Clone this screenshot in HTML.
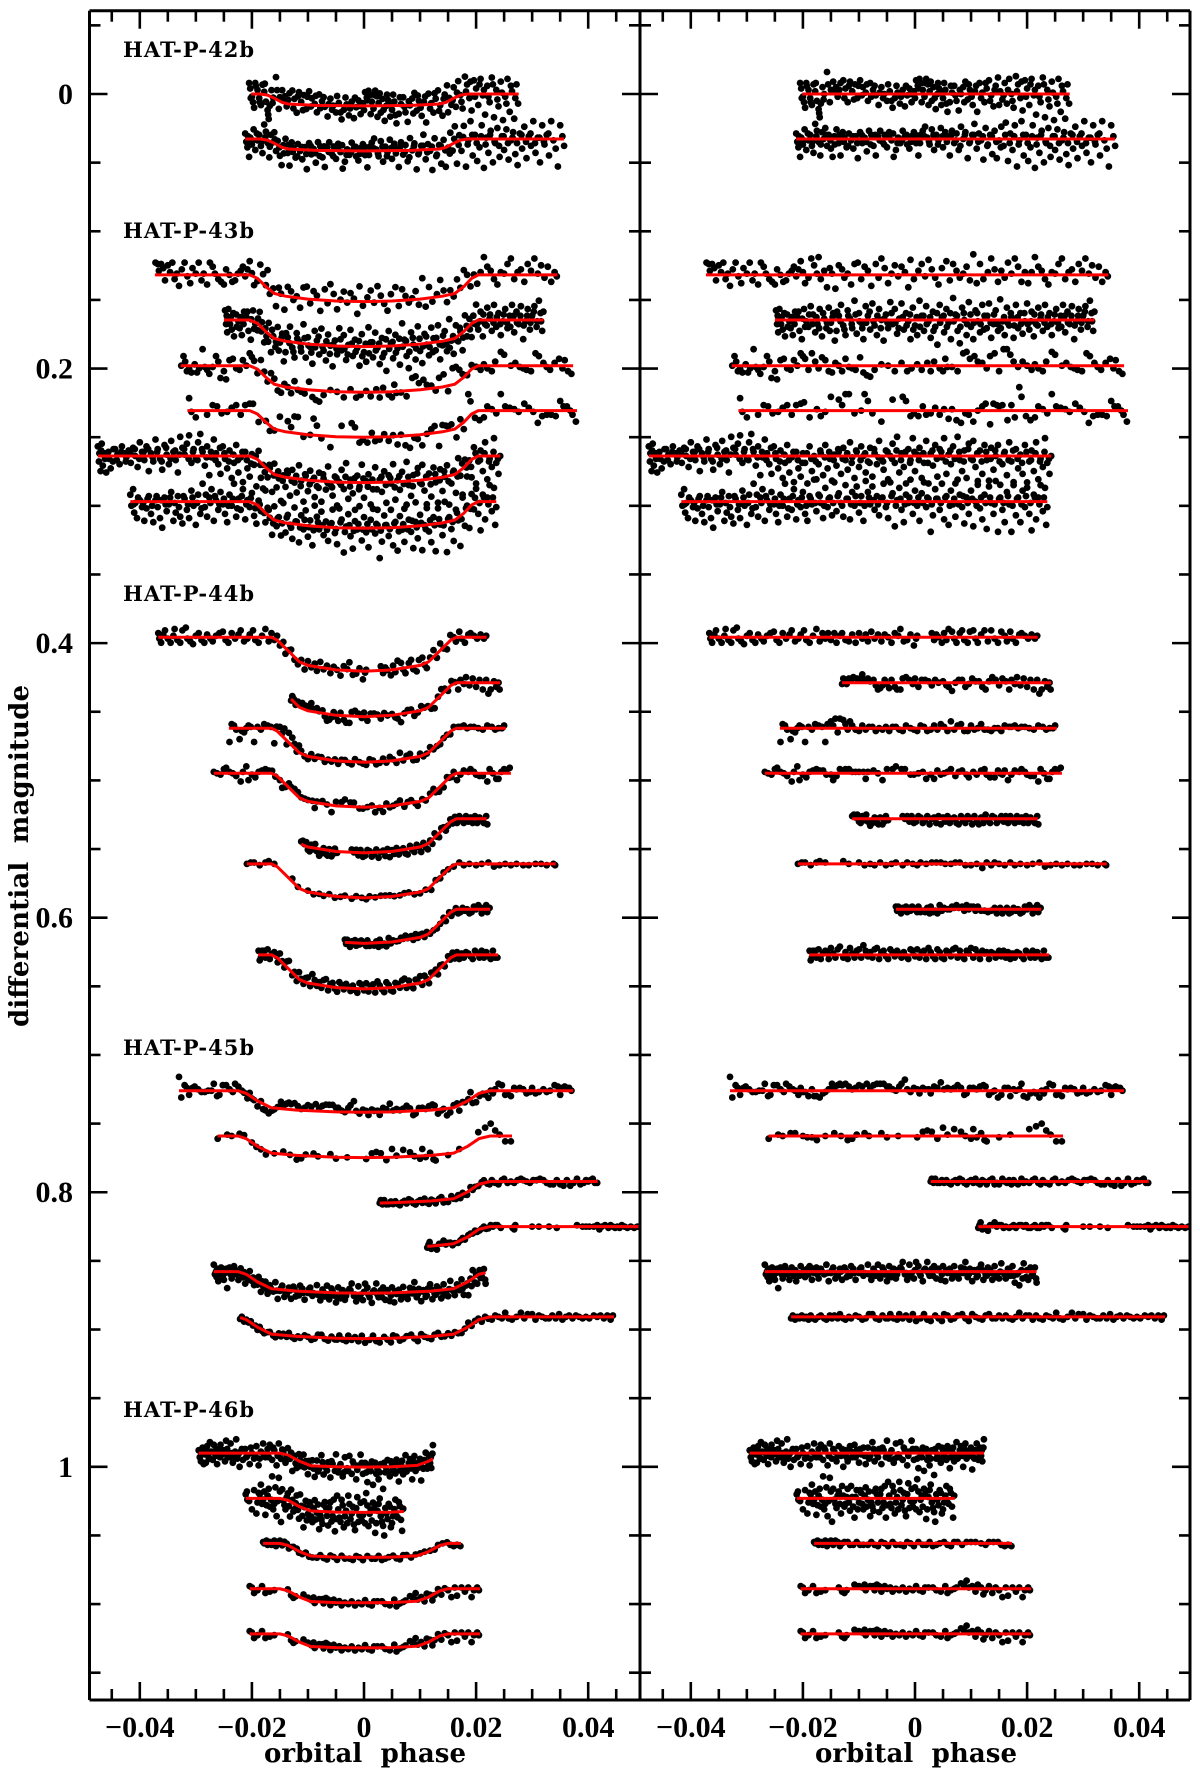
<!DOCTYPE html>
<html>
<head>
<meta charset="utf-8">
<title>HAT-P transit light curves</title>
<style>
html,body{margin:0;padding:0;background:#fff;}
svg{display:block;}
text{fill:#000;}
.tick-label{font-family:"Liberation Serif",serif;font-size:30px;font-weight:bold;}
.axis-title{font-family:"DejaVu Serif",serif;font-size:26px;font-weight:bold;}
.planet-label{font-family:"DejaVu Serif",serif;font-size:21px;font-weight:bold;}
</style>
</head>
<body>
<svg id="chart" xmlns="http://www.w3.org/2000/svg" width="1200" height="1777" viewBox="0 0 1200 1777">
<defs>
<clipPath id="clip-left"><rect x="89" y="10" width="551" height="1690"/></clipPath>
<clipPath id="clip-right"><rect x="640" y="10" width="550" height="1690"/></clipPath>
</defs>
<rect x="0" y="0" width="1200" height="1777" fill="#fff"/>
<g id="left-series" clip-path="url(#clip-left)"></g>
<g id="right-series" clip-path="url(#clip-right)"></g>
<g id="axes"></g>
<text class="planet-label" x="123" y="57" textLength="131" lengthAdjust="spacing">HAT-P-42b</text>
<text class="planet-label" x="123" y="238" textLength="131" lengthAdjust="spacing">HAT-P-43b</text>
<text class="planet-label" x="123" y="601" textLength="131" lengthAdjust="spacing">HAT-P-44b</text>
<text class="planet-label" x="123" y="1055" textLength="131" lengthAdjust="spacing">HAT-P-45b</text>
<text class="planet-label" x="123" y="1417" textLength="131" lengthAdjust="spacing">HAT-P-46b</text>
<text class="axis-title" x="365" y="1762" text-anchor="middle" textLength="202" lengthAdjust="spacing" xml:space="preserve">orbital  phase</text>
<text class="axis-title" x="916" y="1762" text-anchor="middle" textLength="202" lengthAdjust="spacing" xml:space="preserve">orbital  phase</text>
<text class="axis-title" transform="translate(28,856) rotate(-90)" text-anchor="middle" textLength="342" lengthAdjust="spacing" xml:space="preserve">differential  magnitude</text>
</svg>
<script>
// Axis tick values and printed labels
const xMajorValues = [-0.04,-0.02,0,0.02,0.04];
const xMajorLabels = ["\u22120.04","\u22120.02","0","0.02","0.04"];
const yMajorValues = [0,0.2,0.4,0.6,0.8,1];
const yMajorLabels = ["0","0.2","0.4","0.6","0.8","1"];

// Transit model depth (mag) against phase (units of 1e-4), per planet
const p42Phase = [-185,-172,-158,-146,-135,-85,0,85,135,146,158,172,185];
const p42Depth = [0,0.0008,0.0035,0.0062,0.0073,0.0083,0.0087,0.0083,0.0073,0.0062,0.0035,0.0008,0];
const p43Phase = [-204,-190,-175,-160,-140,-100,-50,0,50,100,140,162,178,192,204];
const p43Depth = [0,0.0025,0.0085,0.0135,0.0155,0.0176,0.019,0.0194,0.019,0.0176,0.0155,0.0135,0.0085,0.0025,0];
const p44Phase = [-165,-155,-135,-115,-100,-50,0,50,100,115,135,155,165];
const p44Depth = [0,0.002,0.010,0.018,0.0205,0.0238,0.0248,0.0238,0.0205,0.018,0.010,0.002,0];
const p45Phase = [-225,-210,-190,-165,-120,-50,0,50,120,160,185,205,225];
const p45Depth = [0,0.002,0.0075,0.0125,0.0142,0.0155,0.0158,0.0155,0.0142,0.0125,0.0075,0.002,0];
const p46Phase = [-150,-135,-115,-95,-50,0,50,95,115,135,150];
const p46Depth = [0,0.0015,0.006,0.0092,0.0100,0.0102,0.0100,0.009,0.006,0.0015,0];

// Out-of-transit level (mag), phase range (1e-4) of each light curve
const curveBase = [0,0.0328,0.1318,0.1646,0.1979,0.2306,0.2637,0.2969,0.3957,0.4288,0.462,0.4948,0.528,0.5608,0.5939,0.6271,0.726,0.759,0.7922,0.825,0.8578,0.8908,0.99,1.023,1.0558,1.0889,1.1217];
const curveStart = [-201,-212,-373,-250,-327,-315,-475,-417,-367,-130,-241,-268,-112,-209,-34,-189,-330,-261,28,113,-268,-221,-295,-211,-180,-204,-204];
const curveEnd = [276,357,345,320,373,380,243,236,219,243,253,262,219,342,225,239,373,264,417,495,217,446,123,71,173,207,207];

// Photometry: flat pairs of phase (1e-4) and residual (mmag, positive = fainter)
const c01 = [-205,-8,-203,-4,-200,2,-198,6,-196,10,-193,-6,-190,-3,-187,3,-184,8,-181,-7,-178,-2,-175,5,-172,11,-171,14,-170,17,-168,7,-165,-5,-162,0,-157,-16,-155,-7,-150,-3,-146,-9,-141,-5,-138,2,-133,-8,-128,-10,-124,-4,-120,6,-116,-9,-112,-2,-107,-7,-103,3,-98,-10,-93,-5,-88,-1,-84,5,-80,-8,-75,-3,-70,1,-65,8,-60,-5,-55,0,-50,5,-45,-2,-40,10,-36,3,-31,-1,-27,7,-22,-3,-18,9,-14,1,-10,-4,-6,6,-2,-2,2,-10,5,-6,8,-11,11,-8,14,-3,17,2,20,-11,23,-7,26,-2,30,5,33,-5,37,11,40,0,43,-4,47,8,50,3,54,-3,58,13,62,6,66,-1,70,-6,74,5,78,12,82,0,86,-5,90,-9,94,4,98,-3,103,8,107,-2,111,13,115,-8,120,-1,124,6,128,-4,132,-10,136,1,140,9,144,-6,148,-12,152,-2,156,4,160,-8,164,7,168,-11,172,0,176,10,180,-13,184,-7,188,3,192,12,196,-10,200,-4,204,8,208,-11,212,1,216,15,220,-6,224,6,228,-12,232,17,236,-3,240,9,244,-9,248,19,252,2,256,-11,260,13,264,-2,268,18,272,-7,275,7];
const c01b = [-202,3,-194,-8,-186,6,-177,-8,-163,4,-152,6,-144,-2,-135,-3,-126,3,-118,-6,-109,4,-101,-6,-95,1,-86,-7,-78,2,-72,-6,-63,-1,-57,3,-48,-7,-42,5,-33,-6,-25,2,-16,-6,-8,0,0,3,6,-4,12,6,18,-8,24,8,28,-9,35,3,41,-8,46,-1,52,-8,56,7,64,-6,72,1,80,-3,88,6,96,-7,101,2,109,-6,118,3,126,-8,134,5,142,-3,150,8,158,1,166,-3,174,5,182,-2,190,-9,198,2,206,-7,214,-3,222,2,230,-7,238,4,246,-1,254,7,262,-6,270,3];
const c02 = [-212,-4,-210,2,-208,6,-205,13,-203,-1,-200,4,-197,-7,-194,8,-190,1,-187,-3,-184,5,-181,10,-178,-11,-175,-6,-172,2,-169,12,-166,-5,-163,0,-160,-8,-157,5,-154,-3,-150,7,-147,13,-144,-2,-140,-7,-136,3,-133,12,-129,-5,-126,-1,-122,6,-118,-4,-114,1,-110,7,-106,-2,-102,14,-98,-5,-94,3,-90,-1,-86,9,-82,-6,-78,-3,-74,5,-70,12,-66,-2,-62,-6,-58,2,-54,-3,-50,6,-46,-5,-42,1,-38,13,-34,8,-30,-1,-26,3,-22,-6,-18,-2,-14,4,-10,7,-6,-2,-2,-5,2,3,6,12,10,-3,14,-6,18,-9,22,-1,26,4,30,-7,34,8,38,-3,42,1,46,-8,50,6,54,-5,58,-1,62,12,66,-6,70,3,74,-4,78,8,82,-9,86,0,90,-5,94,14,98,2,102,-3,106,-11,110,7,114,-4,118,1,122,15,126,-8,130,4,134,-3,138,11,142,-6,146,14,150,1,154,-9,158,5,162,-12,166,16,170,-4,174,8,178,-10,182,20,186,1,190,-13,194,12,198,-3,202,16,206,6,210,-10,214,21,218,-1,222,10,226,-6,230,17,234,3,238,-8,242,13,246,-2,250,8,254,-7,258,15,262,1,266,-5,270,11,274,19,278,-4,282,7,286,-9,290,14,294,-2,298,5,302,-13,306,10,310,-1,314,17,318,-10,322,4,326,-3,330,12,334,-13,338,1,342,7,346,20,350,-10,354,-2,357,5];
const c02b = [-207,-2,-199,1,-191,-4,-183,2,-176,-2,-168,4,-159,-3,-151,1,-143,4,-135,-3,-127,2,-119,5,-111,-2,-103,3,-95,-3,-87,2,-79,4,-71,-3,-63,1,-55,4,-47,-2,-39,-4,-31,3,-23,1,-15,-3,-7,2,1,-3,9,3,17,-2,25,2,33,-3,41,4,49,-2,57,2,65,-3,73,1,81,5,89,-3,97,3,105,-3,113,2,121,-2,129,5,137,-2,145,2,153,6,161,-3,169,3,177,-2,185,4,193,-3,201,3,209,-2,217,4,225,-3,233,2,241,5,249,-2,257,3,265,-1,273,3,281,-3,289,2,297,-4,305,3,313,-1,321,2,329,-4];
const c03 = [-372,-9,-368,-8,-366,-3,-362,-8,-358,-5,-355,4,-350,-7,-346,-2,-342,-9,-338,3,-334,-1,-330,8,-325,-4,-320,-9,-315,1,-310,6,-306,-5,-300,-1,-295,-9,-290,4,-286,-1,-280,7,-275,-9,-270,-6,-266,-1,-260,3,-255,5,-250,7,-246,-4,-240,0,-235,5,-230,4,-225,-1,-220,-3,-216,-6,-212,1,-208,-4,-204,-10,-200,-2,-196,6,-190,2,-185,-12,-180,-7,-175,-1,-172,-13,-168,3,-162,-3,-157,9,-152,-5,-148,-1,-142,10,-136,-7,-130,-4,-126,2,-120,-1,-114,7,-108,-8,-102,-9,-96,3,-90,-6,-84,-3,-78,8,-70,-8,-65,2,-60,-12,-54,-5,-48,6,-42,-1,-36,-7,-30,1,-24,-6,-18,-2,-12,9,-8,-11,-2,3,6,-3,12,-8,18,1,24,-11,30,-4,36,2,42,7,48,-5,56,-10,62,4,68,-8,74,-3,80,2,86,-1,92,-6,98,4,104,-15,110,6,116,-8,122,3,130,-2,136,-12,142,-4,148,5,154,-3,160,2,166,-9,172,-1,178,-12,184,-6,190,5,196,-2,202,6,208,-2,214,-13,220,-6,226,-3,232,3,238,7,244,-2,250,-1,256,-8,262,-12,268,3,274,-2,280,-4,286,5,292,-8,298,-3,304,-12,310,-1,316,-7,322,2,328,-6,334,5,340,-2,344,1];
const c04 = [-248,-7,-246,3,-244,9,-242,-8,-238,-2,-236,7,-232,12,-228,-4,-224,1,-222,6,-218,11,-214,-6,-210,-2,-206,8,-202,14,-198,-8,-194,1,-190,5,-186,-10,-182,-4,-178,9,-174,3,-170,-8,-166,12,-162,-1,-158,6,-154,-9,-150,2,-146,-5,-143,15,-140,8,-136,-3,-132,-11,-128,4,-124,11,-120,-7,-116,-1,-112,6,-108,-14,-104,10,-100,-5,-96,2,-92,14,-88,-10,-84,-3,-80,7,-76,-12,-72,4,-68,11,-64,-8,-60,0,-56,15,-52,-4,-48,6,-44,-13,-40,3,-36,-8,-32,10,-28,-1,-24,-12,-20,7,-16,-5,-12,1,-8,14,-4,-9,0,4,4,11,8,-14,12,-3,16,8,20,-10,24,1,28,13,32,-6,36,5,40,18,44,-11,48,-2,52,9,56,-8,60,2,64,14,68,-16,72,-4,76,8,80,17,84,-9,88,0,92,11,96,-13,100,5,104,14,108,-7,112,1,116,9,120,-11,124,-3,128,6,132,-12,136,13,140,3,144,-7,148,8,152,-15,156,1,160,11,164,-9,168,4,172,-2,176,13,180,-11,184,6,188,-5,192,10,196,1,200,-12,204,7,208,-6,212,12,216,3,220,-9,224,-1,228,8,232,-11,236,5,240,-5,244,11,248,1,252,-8,256,6,260,-3,264,-11,268,9,272,-6,276,3,280,-10,284,14,288,1,292,-8,296,7,300,-3,304,-10,308,5,312,-14,316,1,318,8,320,-6];
const c04b = [-245,-3,-239,3,-233,-5,-227,5,-220,-2,-215,3,-208,-6,-201,-1,-196,5,-189,-4,-183,3,-176,-2,-171,6,-164,-5,-157,2,-152,8,-147,-2,-139,-6,-133,1,-126,7,-119,-3,-113,3,-106,-4,-99,1,-94,6,-87,2,-81,-6,-74,1,-67,-3,-61,6,-55,-1,-49,2,-42,-5,-35,2,-29,6,-22,-2,-15,4,-9,-4,-3,7,3,-2,9,5,15,-3,21,3,27,-2,33,8,39,-5,45,2,51,-3,57,5,63,-5,69,1,75,-3,81,5,87,-5,93,3,99,-4,105,2,111,-5,117,3,123,7,129,-3,135,2,141,-4,147,3,153,6,159,-2,165,2,171,-5,177,4,183,-2,189,3,195,-5,201,3,207,1,213,-4,219,4,225,-4,231,2,237,-2,243,3,249,-4,255,2,261,5,267,-3,273,2,279,-3,285,4,291,-3,297,2,303,-6,309,1,315,-5];
const c05 = [-326,0,-322,-7,-319,-3,-316,4,-312,2,-308,5,-302,-1,-298,5,-294,2,-288,-12,-284,1,-280,3,-276,6,-270,1,-264,-7,-260,-3,-256,9,-250,4,-246,10,-240,-4,-234,-5,-228,2,-222,3,-216,-4,-210,0,-204,-9,-200,-7,-196,-5,-190,3,-184,-9,-178,-3,-172,2,-166,-6,-160,-4,-154,4,-148,5,-142,-2,-136,0,-130,4,-124,-5,-118,1,-112,2,-106,3,-98,-6,-92,5,-86,7,-80,8,-72,3,-60,-1,-48,0,-36,4,-24,-2,-14,4,-6,2,4,-1,12,3,22,-2,28,4,34,-3,44,2,50,4,54,-5,58,1,66,1,76,4,86,-9,92,-10,98,-5,106,-7,112,-3,120,-2,128,2,134,-7,142,-9,150,4,158,-12,164,-12,170,-8,176,-3,184,1,192,-3,200,0,208,3,214,-1,220,2,228,4,234,-3,244,-10,250,-8,262,0,270,-2,278,1,284,2,290,3,298,4,306,-9,312,-7,320,-2,326,1,332,3,340,-2,348,-5,354,2,358,-4,364,4,370,6];
const c06 = [-312,-9,-308,1,-300,5,-280,3,-270,-4,-262,-3,-254,2,-244,1,-236,-2,-228,-4,-220,3,-212,-4,-204,-5,-198,-6,-188,5,-175,-1,-168,4,-160,1,-150,-10,-136,-8,-130,-4,-124,-12,-118,-12,-108,2,-96,0,-90,-12,-84,-7,-76,2,-60,8,-40,-8,-22,-10,-16,-7,-8,4,-2,2,6,4,14,-3,20,3,28,2,36,-2,44,3,52,-1,60,6,66,-1,74,7,82,9,90,2,96,3,104,8,112,0,120,-3,126,-5,134,10,140,-5,146,-4,150,-3,156,-4,165,7,172,-4,178,5,186,-17,190,-10,198,4,206,7,214,5,220,-3,228,-1,236,2,244,-12,252,-3,260,-2,268,-1,276,1,286,-5,294,-2,302,1,310,9,318,4,326,3,334,3,342,4,350,-7,356,-3,362,-3,368,0,372,3,378,8];
const c07 = [-475,-7,-473,4,-472,-2,-470,11,-468,-9,-466,7,-462,2,-460,12,-456,-3,-452,9,-448,4,-444,-5,-440,-1,-436,6,-432,-7,-428,-2,-424,1,-420,-4,-416,5,-412,-6,-408,0,-404,8,-400,-10,-396,-3,-392,3,-388,-7,-384,11,-380,-2,-376,4,-372,-12,-368,-5,-364,2,-360,10,-356,-8,-352,-1,-348,6,-344,-11,-340,-3,-336,3,-332,12,-328,-14,-324,-6,-320,-1,-316,-9,-312,-15,-308,5,-304,-5,-300,2,-296,-10,-292,-16,-288,-3,-284,7,-280,-7,-276,14,-272,1,-268,-12,-264,-2,-260,6,-256,13,-252,-7,-248,2,-244,9,-240,-4,-236,16,-232,5,-228,-8,-224,12,-220,1,-216,19,-212,-3,-208,9,-204,15,-200,-2,-196,5,-192,20,-188,-7,-184,11,-180,0,-176,17,-172,6,-168,-2,-164,14,-160,-8,-156,9,-152,2,-148,18,-144,-1,-140,7,-136,-3,-132,13,-128,-6,-124,3,-120,10,-116,-10,-112,1,-108,16,-104,-3,-100,8,-96,-7,-92,0,-88,12,-84,4,-80,-6,-76,15,-72,-2,-68,6,-64,-11,-60,2,-56,10,-52,-4,-48,17,-44,0,-40,-9,-36,5,-32,-14,-28,12,-24,-2,-20,8,-16,20,-12,-5,-8,3,-4,-13,0,11,4,-1,8,-6,12,16,16,5,20,-11,24,20,28,-2,32,7,36,-8,40,15,44,-5,48,1,52,-13,56,13,60,-1,64,6,68,-7,72,20,76,-14,80,3,84,11,88,-4,92,16,96,-9,100,2,104,-11,108,8,112,21,116,-4,120,13,124,-8,128,3,132,18,136,-6,140,10,144,0,148,-8,152,21,156,6,160,-3,164,14,168,-10,172,4,176,19,180,-5,184,9,188,-1,192,13,196,-8,200,23,204,4,208,-4,212,11,216,-10,220,17,224,2,228,8,232,-13,236,5,240,13,243,0];
const c07b = [-469,-4,-463,-2,-455,2,-447,-5,-441,3,-433,-3,-425,4,-417,-2,-409,-5,-401,2,-393,-3,-385,-5,-377,1,-369,-3,-361,4,-353,-6,-345,2,-337,-4,-329,-1,-321,-5,-313,2,-305,-3,-297,3,-289,-5,-281,1,-273,-3,-265,3,-257,-6,-249,-2,-241,4,-233,-1,-225,3,-217,-3,-209,3,-201,5,-193,-2,-185,2,-177,4,-169,-4,-161,1,-153,-3,-145,3,-137,-5,-129,2,-121,-2,-113,5,-105,-4,-97,3,-89,-2,-81,5,-73,-5,-65,1,-57,4,-49,-3,-41,2,-33,-4,-25,3,-17,-3,-9,5,-1,-3,7,3,15,-2,23,5,31,-4,39,2,47,-3,55,4,63,-4,71,2,79,-3,87,4,95,-5,103,3,111,-2,119,4,127,-3,135,2,143,-4,151,4,159,-2,167,3,175,-4,183,2,191,5,199,-3,207,3,215,-2,223,4,231,-3,239,2];
const c08 = [-417,-5,-415,3,-412,-9,-410,8,-408,1,-405,12,-400,-1,-396,4,-392,14,-388,5,-384,-4,-380,9,-376,15,-372,-1,-368,4,-364,12,-360,19,-356,-3,-352,7,-348,2,-344,-7,-340,14,-336,8,-332,-4,-328,11,-324,16,-320,-2,-316,6,-312,12,-308,-8,-304,3,-300,17,-296,-5,-292,9,-288,-13,-284,4,-280,11,-276,-3,-272,-9,-268,14,-264,-1,-260,6,-256,-7,-252,2,-248,9,-244,15,-240,-5,-236,3,-232,-13,-228,11,-224,-2,-220,6,-216,-9,-212,13,-208,-1,-204,4,-200,-7,-196,9,-192,14,-188,-4,-184,2,-180,-16,-176,7,-172,-5,-168,1,-164,12,-160,-10,-156,4,-152,-3,-148,10,-144,-14,-140,7,-136,-6,-132,1,-128,11,-124,-12,-120,-2,-116,13,-112,-7,-108,3,-104,-11,-100,8,-96,-4,-92,14,-88,-15,-84,-7,-80,2,-76,-11,-72,6,-68,-4,-64,10,-60,-2,-56,-13,-52,4,-48,12,-44,-14,-40,-6,-36,18,-32,-1,-28,-10,-24,6,-20,15,-16,-5,-12,1,-8,-16,-4,9,0,-8,4,3,8,14,12,-6,16,-14,20,4,24,-2,28,22,32,10,36,-9,40,-2,44,6,48,-13,52,13,56,-4,60,17,64,-8,68,2,72,11,76,-16,80,-5,84,4,88,16,92,-3,96,9,100,-8,104,18,108,0,112,-15,116,5,120,13,124,-5,128,20,132,-11,136,1,140,9,144,-15,148,22,152,-3,156,6,160,15,164,-7,168,2,172,22,176,-12,180,10,184,-3,188,15,192,-8,196,4,200,-14,204,9,208,21,212,-5,216,13,220,-3,224,-12,228,7,232,-10,234,17,236,4];
const c08b = [-411,2,-403,-3,-394,1,-386,-2,-378,3,-370,-4,-362,-1,-354,2,-346,-3,-338,1,-330,4,-322,-4,-314,2,-306,-3,-298,1,-290,5,-282,-5,-274,1,-266,-4,-258,2,-250,-2,-242,3,-234,-2,-226,5,-218,-4,-210,2,-202,-3,-194,3,-186,-2,-178,1,-170,-4,-162,3,-154,-2,-146,1,-138,-4,-130,3,-122,-2,-114,2,-106,-4,-98,1,-90,3,-82,-3,-74,-1,-66,2,-58,-3,-50,1,-42,-4,-34,3,-26,-2,-18,2,-10,-3,-2,1,6,-3,14,1,22,-3,30,2,38,-2,46,1,54,-3,62,3,70,-2,78,2,86,-4,94,1,102,-2,110,3,118,-3,126,1,134,-3,142,2,150,-2,158,1,166,-4,174,3,182,-2,190,2,198,-4,206,1,214,-3,222,2,230,-3];
const c09 = [-367,-3,-365,1,-362,4,-358,-2,-355,-5,-350,1,-345,4,-340,-1,-338,-6,-333,2,-328,4,-324,-5,-318,-7,-315,1,-310,3,-305,5,-300,-1,-295,-3,-290,2,-285,4,-280,-2,-274,1,-270,3,-264,-1,-258,-3,-252,-4,-247,2,-242,4,-236,-3,-230,1,-224,-2,-220,-5,-214,3,-208,1,-204,-2,-198,-5,-194,2,-188,4,-182,-1,-176,-6,-170,3,-165,-3,-160,1,-155,-3,-150,2,-144,-3,-140,4,-134,-1,-130,-3,-124,2,-118,3,-112,-2,-106,4,-100,-3,-94,1,-88,-2,-84,3,-78,-4,-72,1,-66,-2,-60,3,-54,-2,-48,0,-42,4,-36,-3,-30,-1,-26,-6,-20,3,-14,2,-8,-2,-2,6,2,1,4,-1,30,-3,34,2,38,-2,42,0,48,4,52,-3,56,2,60,-6,66,-4,70,1,74,4,80,-3,84,-5,88,2,94,4,98,-4,104,-5,108,1,112,4,118,-2,124,-5,130,3,136,-5,142,1,148,4,154,-4,160,-1,164,3,170,-4,174,1,180,4,186,-2,190,-3,196,-1,202,1,208,-2,214,1,218,-1];
const c10 = [-130,1,-128,-3,-125,-2,-122,1,-118,-3,-114,-2,-110,-4,-104,-3,-98,-3,-94,-6,-90,-2,-84,-3,-80,-1,-74,-2,-70,2,-66,5,-62,4,-58,2,-54,-2,-50,1,-46,4,-42,-2,-36,3,-32,5,-26,5,-22,-3,-16,-4,-10,-2,-4,1,0,-3,6,3,12,-2,18,-2,24,-1,30,2,36,-2,42,0,50,-1,56,2,60,3,66,6,72,0,78,-2,84,-2,90,3,96,1,102,-3,108,-1,114,-1,120,3,126,5,132,-1,138,-4,144,-2,150,2,156,-3,162,-1,168,5,172,-2,178,1,182,-4,188,2,194,-3,200,3,206,-2,212,5,218,-2,222,8,226,5,232,-1,236,3,240,0,242,5];
const c11 = [-240,10,-236,-3,-232,-2,-228,1,-222,8,-218,2,-214,3,-210,0,-206,-2,-202,-1,-196,10,-190,-1,-184,1,-178,-3,-172,-2,-166,-1,-160,10,-156,-3,-150,-5,-146,-2,-142,-7,-138,3,-134,-7,-128,-6,-124,-3,-120,1,-116,-5,-112,-2,-106,1,-100,2,-94,-2,-88,1,-82,-1,-76,-1,-70,2,-64,0,-58,1,-52,-1,-46,2,-40,-1,-34,-1,-28,1,-22,2,-16,-2,-8,0,-2,1,4,2,10,-2,16,-1,22,2,28,1,34,-2,40,1,46,-3,52,-1,58,2,64,-5,70,1,76,-2,82,-3,88,2,94,2,100,-2,106,1,112,0,118,-3,124,1,130,1,136,2,142,0,148,0,154,2,160,-2,168,-1,172,-1,178,-2,184,0,190,-1,196,-1,204,0,212,1,220,-2,228,-1,234,1,240,0,246,0,250,-2];
const c12 = [-268,-1,-262,0,-256,1,-250,-3,-246,-4,-240,-1,-234,0,-228,2,-220,6,-216,-1,-210,-5,-206,5,-200,1,-194,3,-188,-1,-182,-2,-176,-3,-170,-2,-164,-2,-158,1,-150,1,-146,5,-140,2,-134,-3,-130,-2,-124,-3,-118,-3,-112,-1,-106,-1,-100,-1,-92,-1,-88,4,-84,-1,-74,-2,-66,0,-58,5,-50,-3,-40,-3,-34,-5,-24,-3,-18,-3,-8,1,-2,1,6,0,14,-1,20,4,28,1,34,4,40,-2,46,1,52,0,58,-1,64,-3,72,2,78,-1,84,-2,92,1,96,3,104,-1,110,1,118,-2,124,-3,128,1,134,3,142,3,148,-2,152,0,156,1,160,-2,166,5,172,1,178,-2,186,-1,190,-3,196,-1,200,1,206,2,212,2,220,6,224,-3,230,0,236,4,240,4,245,-1,250,-3,254,-2,260,-4];
const c13 = [-112,-2,-109,-3,-106,-1,-103,-3,-100,2,-97,3,-94,-2,-90,1,-87,-3,-84,2,-80,5,-76,3,-72,-1,-68,3,-65,4,-62,-1,-58,4,-55,2,-52,-2,-48,1,-22,-2,-18,0,-14,-2,-10,2,-6,-2,-2,3,2,2,6,-2,10,-1,14,3,18,1,22,-2,26,4,30,0,34,-1,38,3,42,-2,46,4,50,-1,54,2,58,-2,62,3,66,0,70,-1,74,3,78,4,82,-2,86,1,90,3,94,-2,98,0,102,4,106,-2,110,2,114,4,118,-1,122,3,126,-3,130,1,134,3,138,-2,142,-1,146,3,150,1,154,-2,158,2,162,-2,166,3,170,-2,174,1,178,3,182,-2,186,2,190,-1,194,3,198,-2,202,3,206,-1,210,1,214,3,218,-2,220,4];
const c14 = [-209,0,-202,-1,-196,-1,-186,1,-176,-1,-170,-2,-160,-1,-128,-2,-118,0,-100,-1,-90,1,-80,0,-72,1,-62,-1,-52,1,-42,0,-34,-1,-22,1,-14,-1,-4,0,4,1,10,-1,20,0,30,-1,38,-1,46,-1,54,0,64,0,72,-1,80,-1,90,1,100,1,110,0,120,3,128,-1,136,1,142,-1,150,0,160,1,170,-1,178,1,188,0,200,1,210,0,222,-1,232,2,242,1,252,0,262,1,272,0,284,1,294,1,306,0,316,0,326,1,338,0,341,1];
const c15 = [-34,-2,-32,1,-30,-2,-28,1,-25,3,-22,-1,-20,1,-16,-2,-14,2,-10,-1,-8,1,-5,-2,-2,0,4,2,6,-2,10,2,14,1,18,2,22,-1,26,3,28,-2,32,2,36,1,40,3,44,-3,48,1,52,-1,58,0,62,0,66,-2,70,-1,74,-3,78,-1,84,-2,88,1,92,-3,96,0,100,-2,104,-2,108,1,112,-2,118,1,124,1,130,2,136,1,142,-1,146,3,152,-1,156,3,160,1,164,-1,168,3,172,2,176,-1,180,1,184,0,188,3,192,2,196,-2,200,0,204,-3,208,-1,210,3,214,-1,218,-3,220,2,222,-1,224,-1];
const c16 = [-188,-3,-186,4,-184,2,-182,-3,-178,-3,-176,2,-172,-4,-168,3,-164,-1,-160,-3,-156,-1,-154,3,-150,-5,-146,-1,-142,2,-138,-4,-134,-6,-128,2,-124,-2,-120,3,-116,-5,-112,-1,-108,2,-104,-3,-100,-4,-96,2,-92,-7,-88,-3,-84,1,-80,-2,-76,2,-72,-4,-68,-5,-64,3,-60,-2,-56,-3,-52,1,-48,3,-44,-4,-40,-2,-36,1,-32,-3,-28,-1,-24,2,-20,-2,-16,1,-12,3,-8,-4,-4,-3,0,1,4,-4,8,2,12,-2,16,-3,20,3,24,-5,28,-2,32,1,36,3,40,-4,44,-2,48,2,52,3,56,-3,60,-2,64,1,68,-4,72,-5,76,2,80,-3,84,1,88,3,92,-3,96,-1,100,-5,104,2,108,-4,112,-1,116,3,120,-3,124,-1,128,-2,132,3,136,-2,140,-1,144,2,150,-3,154,1,158,-3,162,2,166,-2,170,3,174,-1,178,2,182,-2,186,-1,190,1,194,3,198,-3,202,-1,206,2,210,-3,214,2,218,-2,222,1,226,3,230,-3,234,2,238,2];
const c17 = [-330,-10,-326,5,-320,-4,-316,-2,-312,3,-306,-2,-302,-3,-296,-1,-290,1,-284,1,-278,0,-272,0,-268,-5,-262,4,-258,3,-252,-4,-246,-4,-240,-1,-234,1,-230,-5,-224,-3,-218,-1,-214,0,-208,3,-204,-2,-200,1,-196,1,-190,4,-184,-1,-180,4,-176,4,-170,5,-164,2,-160,1,-154,-1,-148,-5,-144,-2,-138,-4,-134,-5,-130,-4,-124,-5,-118,-3,-112,-1,-106,-2,-100,-4,-94,-3,-86,-5,-80,-2,-74,-4,-68,-5,-62,-5,-56,-5,-50,-3,-46,-3,-40,-1,-34,0,-28,-3,-24,-5,-18,-8,-14,-1,-8,1,-2,-2,4,-1,8,2,14,-2,18,-1,24,-1,28,2,34,-3,40,-2,46,-6,52,-1,58,-2,64,-1,70,-2,76,-4,82,-2,88,3,92,2,98,-2,104,-2,110,-1,116,-3,122,-4,126,-3,132,3,138,1,142,0,148,5,154,3,160,-2,166,-2,170,4,176,-1,180,0,186,-1,190,-5,194,4,200,5,206,2,212,1,216,2,222,5,226,0,230,2,234,-1,240,-5,246,-4,252,3,256,2,262,4,268,-2,272,-1,278,-2,284,-1,290,2,296,1,300,-2,306,2,312,1,320,-1,326,1,332,0,340,-4,346,-3,350,3,354,-2,358,-3,362,-2,366,-2,370,0];
const c18 = [-261,2,-244,-1,-236,0,-222,-2,-214,-2,-200,0,-192,1,-184,1,-175,3,-160,0,-144,-2,-132,0,-120,3,-112,2,-104,-1,-90,-2,-82,0,-60,-2,-50,1,-30,0,4,1,14,-3,22,-4,30,-3,40,2,50,-6,58,-1,70,-5,82,-3,90,0,100,2,104,-5,110,1,118,-2,124,3,128,4,150,1,170,-1,204,-5,216,-7,226,-9,234,-4,242,-1,252,4,262,4];
const c19 = [28,0,30,-2,33,1,36,-2,40,1,44,1,48,-1,52,1,56,-1,60,1,64,2,68,0,72,-1,76,1,80,-2,84,-1,88,1,92,2,96,0,100,-1,104,1,108,-2,112,1,116,2,120,-1,124,0,128,2,134,-1,138,-2,142,2,146,1,150,2,156,-2,160,0,164,1,168,-1,172,2,176,-1,180,1,184,2,190,-2,194,1,198,0,204,1,210,-1,214,-2,220,1,224,2,228,-1,234,1,240,2,246,-1,250,-2,256,1,262,0,268,1,274,-1,280,-2,284,-1,290,0,296,1,302,-1,308,-1,314,-2,320,-1,326,1,332,2,338,2,344,-1,350,2,356,3,362,-1,368,3,374,1,380,-2,386,2,392,1,396,-1,400,0,404,-1,408,-2,412,1,416,1];
const c20 = [113,1,115,-1,117,-3,120,2,124,1,128,1,130,3,134,-1,138,-1,142,-3,146,0,150,-1,154,-1,158,1,162,0,168,1,172,0,176,-1,180,1,186,-1,190,-1,194,0,198,-1,202,1,206,1,210,0,214,-1,218,1,222,1,226,-1,230,0,234,-1,238,-1,244,1,265,1,268,2,270,-1,300,0,312,0,330,0,344,1,380,-1,390,0,396,0,402,0,410,0,416,-1,420,2,424,0,430,-1,436,1,440,-1,444,0,448,1,452,0,456,1,460,-1,465,0,470,1,476,0,482,1,488,0,494,1];
const c21 = [-268,-5,-266,2,-263,4,-262,-2,-260,7,-258,1,-255,-3,-252,3,-250,6,-246,-2,-244,12,-240,-3,-236,5,-232,-4,-228,2,-224,6,-220,-3,-216,3,-212,7,-208,1,-204,-4,-200,2,-196,4,-192,-2,-188,-4,-184,6,-180,1,-176,-3,-172,5,-168,-2,-162,2,-158,-5,-154,7,-150,1,-146,-3,-142,5,-138,3,-134,-2,-130,6,-126,-3,-122,4,-118,1,-114,-4,-110,-2,-106,6,-100,1,-96,-3,-92,3,-84,-5,-80,2,-78,6,-74,-2,-70,3,-66,-5,-62,5,-58,-3,-54,2,-50,7,-46,-4,-42,4,-38,-2,-34,5,-30,-1,-26,-3,-22,-7,-18,2,-14,6,-10,-5,-6,1,-2,5,2,-7,6,-4,10,3,14,7,18,-2,22,-7,26,3,30,-2,34,-4,38,5,42,-2,46,6,50,-4,54,7,58,1,62,-2,66,5,70,-4,74,2,78,5,82,-3,86,1,90,-7,94,4,98,-2,102,7,106,-1,110,4,114,-2,118,-5,122,6,126,2,130,-3,134,-1,138,6,142,-4,146,2,150,5,154,-6,158,1,162,5,166,-2,170,3,174,-4,178,8,182,2,186,10,190,-1,194,-6,198,4,202,6,206,-3,210,2,214,-3,216,5,217,8];
const c21b = [-264,0,-256,3,-248,1,-238,2,-230,-1,-222,1,-214,-1,-206,3,-198,-1,-190,2,-182,-2,-174,2,-166,0,-156,1,-148,-1,-140,2,-132,0,-124,-1,-116,3,-108,1,-98,-2,-90,1,-82,2,-72,0,-64,2,-56,-1,-48,3,-40,0,-32,2,-24,-2,-16,1,-8,3,0,-1,8,1,16,-1,24,1,32,3,40,-1,48,2,56,-1,64,1,72,3,80,1,88,-2,96,2,104,0,112,3,120,-1,128,3,136,1,144,4,152,0,160,2,168,-1,176,3,184,1,192,5,200,-1,208,3];
const c22 = [-221,1,-218,-1,-214,2,-210,0,-206,1,-202,-1,-198,1,-194,0,-190,2,-186,-1,-182,1,-178,2,-172,0,-168,-1,-162,1,-158,2,-152,-1,-148,1,-144,-1,-138,1,-134,-2,-128,1,-124,2,-118,0,-114,1,-106,-1,-100,0,-94,2,-88,1,-82,-2,-76,-2,-70,1,-64,2,-58,-1,-52,1,-48,1,-44,-2,-38,1,-32,2,-28,-2,-22,1,-16,-1,-10,2,-4,-2,2,3,10,1,16,-2,22,2,28,3,36,-1,42,1,48,3,52,-2,58,-1,64,2,70,1,76,-1,84,-2,90,1,96,3,102,-2,108,0,114,1,120,2,126,-1,132,-2,138,1,144,1,150,-1,156,1,162,-1,168,1,174,2,180,0,186,-3,192,1,198,-1,204,-1,210,2,216,-1,222,1,228,2,234,-1,240,0,246,1,252,-3,258,1,264,2,272,0,280,-3,286,1,292,-2,300,-2,306,2,312,-1,318,0,324,1,330,1,336,-1,342,1,348,-2,354,2,360,0,366,-1,372,1,378,-1,384,0,390,1,396,0,402,1,410,-1,416,0,422,-1,428,1,434,-1,440,2,444,-1];
const c23 = [-295,-2,-293,3,-291,6,-288,-4,-286,8,-284,1,-282,7,-280,-5,-277,3,-275,-8,-273,-1,-270,5,-268,-6,-265,2,-262,8,-258,-3,-256,-6,-252,1,-248,6,-246,-9,-244,-3,-240,3,-238,-7,-234,7,-230,-1,-228,-10,-226,4,-222,10,-220,-1,-216,5,-212,-3,-208,2,-204,8,-200,0,-196,4,-192,-5,-188,9,-184,-1,-180,-7,-176,3,-172,-3,-168,-6,-164,5,-160,-2,-156,9,-152,-7,-148,4,-144,-1,-140,6,-136,-5,-132,2,-128,10,-124,-2,-120,6,-116,-5,-112,3,-108,-6,-104,-2,-100,7,-96,1,-92,-4,-88,8,-84,-4,-80,2,-76,-8,-72,6,-68,1,-64,-3,-60,8,-56,-2,-50,-9,-46,4,-42,-2,-38,7,-34,-7,-30,1,-26,-8,-22,5,-18,-2,-14,9,-10,-1,-6,-9,-2,5,2,-3,6,11,10,1,14,-4,16,13,18,-2,22,5,26,9,30,-2,34,16,38,4,42,-5,46,7,50,-2,54,3,58,-5,62,11,66,-1,70,6,74,-8,78,2,82,-5,86,10,90,-7,94,0,98,-2,102,12,106,4,110,-7,113,5,116,-4,118,2,120,6,122,-4,123,-10];
const c23b = [-290,1,-283,-2,-276,4,-269,-1,-263,-3,-257,3,-250,-2,-243,3,-236,0,-231,3,-224,1,-218,-3,-210,3,-202,-4,-194,2,-186,4,-178,1,-170,3,-162,-4,-154,2,-146,-3,-138,2,-130,-3,-122,3,-114,-1,-106,3,-98,-3,-90,2,-82,4,-74,-3,-66,3,-58,-4,-52,3,-44,0,-36,4,-28,3,-20,-4,-12,2,-4,-3,4,4,8,-1,12,3,20,-3,24,2,28,4,36,-3,40,1,44,4,48,-4,52,2,56,5,60,-2,64,3,68,-4,72,2,76,4,80,-2,84,2,88,-3,92,4,96,2,100,-4,104,3,108,-2,112,4,115,1,119,-2];
const c24 = [-211,-3,-209,-5,-208,1,-205,2,-200,8,-196,-6,-192,11,-190,3,-186,-3,-184,-10,-180,1,-176,12,-172,-2,-168,6,-164,-16,-160,4,-156,13,-152,-15,-150,-5,-148,17,-144,1,-140,7,-136,-5,-132,11,-128,-2,-124,4,-120,-7,-116,9,-112,-1,-108,14,-104,-6,-100,3,-96,-4,-92,8,-88,-8,-84,1,-80,13,-76,6,-72,-5,-68,-3,-64,10,-60,-7,-56,3,-52,14,-48,-12,-44,4,-40,-9,-36,11,-32,-1,-28,-12,-24,5,-20,-4,-16,13,-12,-11,-8,2,-4,6,0,-8,4,-14,8,10,12,-2,16,-7,20,15,24,-1,28,-10,32,7,36,17,40,1,44,-6,48,11,52,3,56,-9,60,4,64,-4,68,14,70,-2];
const c24b = [-188,-4,-182,4,-178,-5,-174,5,-170,-7,-166,1,-162,8,-158,-8,-154,2,-146,-7,-142,4,-138,-2,-134,4,-130,-9,-126,6,-122,-1,-118,3,-114,-9,-110,6,-106,-1,-102,8,-98,-6,-94,4,-90,-2,-86,6,-82,-5,-78,3,-74,9,-70,-7,-66,3,-62,-3,-58,7,-54,-9,-50,5,-46,-2,-42,7,-38,-5,-34,3,-30,8,-26,-6,-22,1,-18,9,-14,-3,-10,7,-6,-7,-2,2,2,8,6,-5,10,1,14,6,18,-3,22,8,26,-6,30,3,34,10,38,-3,42,5,46,-4,50,8,54,-2,58,3,62,-7,66,6];
const c25 = [-180,-1,-178,0,-174,-2,-172,1,-168,-1,-165,1,-160,-2,-157,2,-154,-1,-150,-2,-146,1,-142,-2,-138,-1,-134,2,-130,0,-126,-1,-120,-1,-116,1,-110,1,-104,-1,-98,1,-92,1,-84,1,-78,-1,-72,1,-66,2,-60,-1,-54,0,-48,2,-40,-1,-34,1,-26,1,-20,2,-14,-1,-8,0,-2,2,6,-1,14,1,20,1,26,-1,32,2,38,1,44,0,52,-1,58,1,64,2,70,-1,76,-1,84,1,92,-1,100,-1,108,-1,118,0,126,1,132,-1,140,-1,148,-1,154,1,160,2,166,1,172,2];
const c26 = [-204,-2,-200,-1,-196,3,-190,1,-182,-2,-176,3,-168,2,-160,1,-136,-1,-130,2,-126,3,-122,1,-108,-3,-100,-2,-94,-1,-90,-3,-88,1,-80,-2,-74,-2,-72,1,-68,-3,-64,-2,-60,2,-54,-2,-50,0,-44,-1,-40,2,-34,0,-28,1,-22,-1,-16,2,-10,0,-4,1,2,-2,8,1,14,2,18,-1,24,-1,32,-1,38,1,46,2,54,-2,58,3,64,1,70,0,74,-1,82,-4,88,-2,92,-6,96,-1,102,-2,108,2,112,-3,118,-1,122,4,126,1,132,-2,138,3,144,-1,150,1,156,6,162,-1,166,5,174,-1,180,2,186,-1,192,6,196,1,202,-1,205,1];
const c27 = c26;

const curvePoints = [c01.concat(c01b),c02.concat(c02b),c03,c04.concat(c04b),c05,c06,c07.concat(c07b),c08.concat(c08b),c09,c10,c11,c12,c13,c14,c15,c16,c17,c18,c19,c20,c21.concat(c21b),c22,c23.concat(c23b),c24.concat(c24b),c25,c26,c27];
const curveModels = [
  [p42Phase,p42Depth],[p42Phase,p42Depth],
  [p43Phase,p43Depth],[p43Phase,p43Depth],[p43Phase,p43Depth],[p43Phase,p43Depth],[p43Phase,p43Depth],[p43Phase,p43Depth],
  [p44Phase,p44Depth],[p44Phase,p44Depth],[p44Phase,p44Depth],[p44Phase,p44Depth],[p44Phase,p44Depth],[p44Phase,p44Depth],[p44Phase,p44Depth],[p44Phase,p44Depth],
  [p45Phase,p45Depth],[p45Phase,p45Depth],[p45Phase,p45Depth],[p45Phase,p45Depth],[p45Phase,p45Depth],[p45Phase,p45Depth],
  [p46Phase,p46Depth],[p46Phase,p46Depth],[p46Phase,p46Depth],[p46Phase,p46Depth],[p46Phase,p46Depth]
];

// Axis functions
const SVGNS = "http://www.w3.org/2000/svg";
function xLeft(phase){ return 364 + 5605*phase; }
function xRight(phase){ return 915 + 5605*phase; }
function yMag(mag){ return 94 + 1372.8*mag; }

function depthAt(model, p){
  const ph = model[0], d = model[1];
  if(p <= ph[0] || p >= ph[ph.length-1]) return 0;
  for(let i=1;i<ph.length;i++){
    if(p <= ph[i]){
      const t = (p-ph[i-1])/(ph[i]-ph[i-1]);
      return d[i-1] + t*(d[i]-d[i-1]);
    }
  }
  return 0;
}

const axes = document.getElementById('axes');
function axisLine(x1,y1,x2,y2,name,w){
  const el = document.createElementNS(SVGNS,'line');
  el.setAttribute('x1',x1);
  el.setAttribute('y1',y1);
  el.setAttribute('x2',x2);
  el.setAttribute('y2',y2);
  el.setAttribute('stroke','#000');
  el.setAttribute('stroke-width',w||2.6);
  
  
  axes.appendChild(el);
}
function tickText(x,y,str,anchor,name){
  const el = document.createElementNS(SVGNS,'text');
  el.setAttribute('x',x);
  el.setAttribute('y',y);
  el.setAttribute('class','tick-label');
  el.setAttribute('text-anchor',anchor);
  el.textContent = str;
  
  
  axes.appendChild(el);
}

const frameLeft = 89.5, frameRight = 1190, frameDiv = 640, frameTop = 10.7, frameBottom = 1700;
const majorLen = 18, minorLen = 11;

// x ticks on both panels, bottom and top
[xLeft,xRight].forEach(function(xf){
  for(let k=-9;k<=9;k++){
    const v = k*0.005;
    const isMajor = k%4===0 && Math.abs(k)<=8;
    const len = isMajor ? majorLen : minorLen;
    axisLine(xf(v),frameBottom,xf(v),frameBottom-len,'x-tick-bottom',2.6);
    axisLine(xf(v),frameTop,xf(v),frameTop+len,'x-tick-top',2.6);
  }
  xMajorValues.forEach(function(v,i){
    tickText(xf(v),1737,xMajorLabels[i],'middle','x-tick-label');
  });
});

// y ticks on left, divider, right
for(let k=-1;k<=23;k++){
  const v = k*0.05;
  const isMajor = k%4===0 && k>=0;
  const len = isMajor ? majorLen : minorLen;
  const yy = yMag(v);
  axisLine(frameLeft,yy,frameLeft+len,yy,'y-tick-left',2.6);
  axisLine(frameDiv-len,yy,frameDiv+len,yy,'y-tick-divider',2.6);
  axisLine(frameRight-len,yy,frameRight,yy,'y-tick-right',2.6);
}
yMajorValues.forEach(function(v,i){
  tickText(73,yMag(v)+10,yMajorLabels[i],'end','y-tick-label');
});

axisLine(frameLeft,frameTop,frameRight,frameTop,'frame-top',3);
axisLine(frameLeft,frameBottom,frameRight,frameBottom,'frame-bottom',3);
axisLine(frameLeft,frameTop,frameLeft,frameBottom,'frame-left',3);
axisLine(frameRight,frameTop,frameRight,frameBottom,'frame-right',3);
axisLine(frameDiv,frameTop,frameDiv,frameBottom,'panel-divider',3);

// Series
const leftSeries = document.getElementById('left-series');
const rightSeries = document.getElementById('right-series');
function addDot(parent,cx,cy){
  const el = document.createElementNS(SVGNS,'circle');
  el.setAttribute('cx',cx.toFixed(1));
  el.setAttribute('cy',cy.toFixed(1));
  el.setAttribute('r','3.4');
  el.setAttribute('fill','#000');
  
  
  parent.appendChild(el);
}
function addLine(parent,pts,name){
  const el = document.createElementNS(SVGNS,'polyline');
  el.setAttribute('points',pts.join(' '));
  el.setAttribute('fill','none');
  el.setAttribute('stroke','#ff0000');
  el.setAttribute('stroke-width','3');
  
  
  parent.appendChild(el);
}

curveBase.forEach(function(base,i){
  const model = curveModels[i];
  const pts = curvePoints[i];
  const gL = document.createElementNS(SVGNS,'g');
  
  
  const gR = document.createElementNS(SVGNS,'g');
  
  
  for(let k=0;k+1<pts.length;k+=2){
    const p = pts[k], r = pts[k+1]/1000;
    addDot(gL,xLeft(p/1e4),yMag(base+depthAt(model,p)+r));
    addDot(gR,xRight(p/1e4),yMag(base+r));
  }
  const verts = [curveStart[i]];
  model[0].forEach(function(p){ if(p>curveStart[i] && p<curveEnd[i]) verts.push(p); });
  verts.push(curveEnd[i]);
  addLine(gL,verts.map(function(p){ return xLeft(p/1e4).toFixed(1)+','+yMag(base+depthAt(model,p)).toFixed(1); }),'transit-model-line');
  addLine(gR,[xRight(curveStart[i]/1e4).toFixed(1)+','+yMag(base).toFixed(1),xRight(curveEnd[i]/1e4).toFixed(1)+','+yMag(base).toFixed(1)],'residual-baseline');
  leftSeries.appendChild(gL);
  rightSeries.appendChild(gR);
});
</script>
</body>
</html>
